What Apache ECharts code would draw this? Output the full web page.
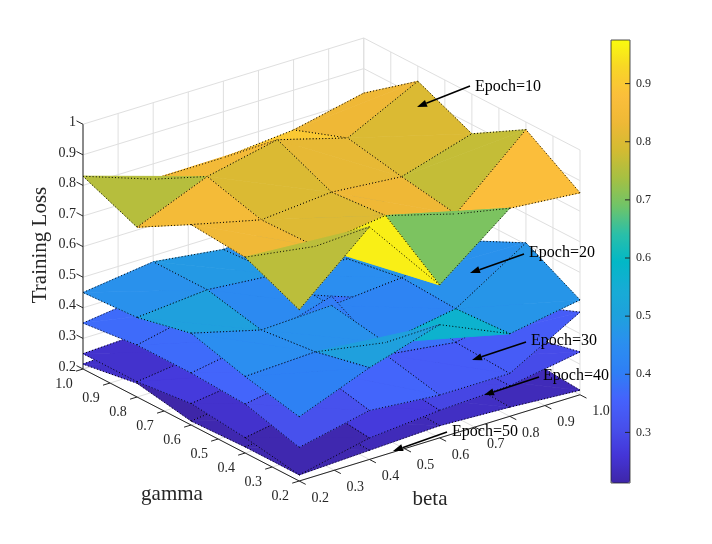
<!DOCTYPE html>
<html><head><meta charset="utf-8">
<script src="https://cdn.jsdelivr.net/npm/echarts@6/dist/echarts.min.js"></script>
<style>html,body{margin:0;padding:0;background:#fff}#c{width:712px;height:544px}</style>
</head><body><div id="c"></div>
<script>
// ---------------- data ----------------
const beta = [0.2, 0.4, 0.6, 0.8, 1.0];
const gamma = [0.2, 0.4, 0.6, 0.8, 1.0];
const epochNames = ['Epoch=10', 'Epoch=20', 'Epoch=30', 'Epoch=40', 'Epoch=50'];
// rows: gamma (0.2 -> 1.0), columns: beta (0.2 -> 1.0)
const loss10 = [
  [0.76, 0.96, 0.70, 0.88, 0.86],
  [0.84, 0.805, 0.835, 0.77, 0.975],
  [0.855, 0.80, 0.82, 0.80, 0.87],
  [0.755, 0.85, 0.90, 0.835, 0.95],
  [0.83, 0.75, 0.75, 0.77, 0.82]
];
const loss20 = [
  [0.41, 0.50, 0.57, 0.47, 0.51],
  [0.45, 0.46, 0.42, 0.46, 0.605],
  [0.50, 0.44, 0.45, 0.47, 0.52],
  [0.46, 0.48, 0.46, 0.44, 0.50],
  [0.45, 0.48, 0.45, 0.47, 0.50]
];
const loss30 = [
  [0.31, 0.36, 0.34, 0.34, 0.47],
  [0.36, 0.40, 0.38, 0.35, 0.40],
  [0.37, 0.41, 0.48, 0.40, 0.38],
  [0.37, 0.42, 0.40, 0.38, 0.39],
  [0.35, 0.38, 0.37, 0.37, 0.38]
];
const loss40 = [
  [0.22, 0.27, 0.29, 0.30, 0.34],
  [0.25, 0.29, 0.31, 0.30, 0.30],
  [0.27, 0.30, 0.31, 0.29, 0.28],
  [0.25, 0.28, 0.28, 0.27, 0.27],
  [0.25, 0.26, 0.26, 0.26, 0.26]
];
const loss50 = [
  [0.22, 0.23, 0.24, 0.23, 0.215],
  [0.22, 0.24, 0.25, 0.24, 0.23],
  [0.213, 0.24, 0.25, 0.24, 0.23],
  [0.245, 0.23, 0.24, 0.24, 0.23],
  [0.216, 0.23, 0.23, 0.23, 0.22]
];
const betaTicks = [0.2, 0.3, 0.4, 0.5, 0.6, 0.7, 0.8, 0.9, 1.0];
const gammaTicks = [0.2, 0.3, 0.4, 0.5, 0.6, 0.7, 0.8, 0.9, 1.0];
const lossTicks = [0.2, 0.3, 0.4, 0.5, 0.6, 0.7, 0.8, 0.9, 1];
const colorbarTicks = [0.3, 0.4, 0.5, 0.6, 0.7, 0.8, 0.9];

// ---------------- styles / view ----------------
const surfaces = [loss10, loss20, loss30, loss40, loss50];
const PARULA = ['#3e26a8','#4435d8','#4750ec','#4562fc','#2f7ff5','#2b8ef0','#1fa0dd','#17acd5',
  '#02b8c6','#2bbfa8','#70c468','#a5c043','#d2bb32','#eeb836','#fbbe3b','#f8d626','#f9fb0e'];
const FONT = '"Liberation Serif","DejaVu Serif",serif';
const VIEW = { az: 37.6 * Math.PI / 180, el: 23.5 * Math.PI / 180, zScale: 0.753 };
const LIM = { b: [0.2, 1.0], g: [0.2, 1.0], z: [0.2, 1.0] };
const ca = Math.cos(VIEW.az), sa = Math.sin(VIEW.az), ce = Math.cos(VIEW.el), se = Math.sin(VIEW.el);
function nrm(v, r) { return (v - r[0]) / (r[1] - r[0]); }
function project(b, g, z) {
  const bn = nrm(b, LIM.b), gn = nrm(g, LIM.g), zn = nrm(z, LIM.z);
  const h = bn * sa + gn * ca;
  return [bn * ca - gn * sa, h * se + VIEW.zScale * zn * ce, h * ce - VIEW.zScale * zn * se];
}
const uMin = -sa, uMax = ca, vMax = (sa + ca) * se + VIEW.zScale * ce;

let allVals = [];
surfaces.forEach(Z => Z.forEach(r => allVals = allVals.concat(r)));
const cMin = Math.min.apply(null, allVals), cMax = Math.max.apply(null, allVals);

// faces sorted back-to-front
const faces = [];
surfaces.forEach((Z, s) => {
  for (let j = 0; j < gamma.length - 1; j++) for (let i = 0; i < beta.length - 1; i++) {
    let d = 0;
    [[i, j], [i + 1, j], [i + 1, j + 1], [i, j + 1]].forEach(([a, b]) => { d += project(beta[a], gamma[b], Z[b][a])[2]; });
    faces.push({ value: [s, i, j, Z[j][i]], depth: d / 4 });
  }
});
faces.sort((a, b) => b.depth - a.depth);

function renderFace(params, api) {
  const s = api.value(0), i = api.value(1), j = api.value(2);
  const Z = surfaces[s];
  const P = (a, b) => { const p = project(beta[a], gamma[b], Z[b][a]); return api.coord([p[0], p[1]]); };
  const p00 = P(i, j), p10 = P(i + 1, j), p11 = P(i + 1, j + 1), p01 = P(i, j + 1);
  const color = api.visual('color');
  const fs = { fill: color, stroke: color, lineWidth: 0.7 };
  const edge = (a, b) => ({ type: 'line', shape: { x1: a[0], y1: a[1], x2: b[0], y2: b[1] },
    style: { stroke: '#000', lineWidth: 1, lineDash: [1, 2.2], fill: null } });
  return { type: 'group', children: [
    { type: 'polygon', shape: { points: [p00, p10, p01] }, style: fs },
    { type: 'polygon', shape: { points: [p10, p11, p01] }, style: fs },
    edge(p00, p10), edge(p01, p11), edge(p00, p01), edge(p10, p11)
  ] };
}

function renderBox(params, api) {
  const C = (b, g, z) => { const p = project(b, g, z); return api.coord([p[0], p[1]]); };
  const ch = [];
  const gridLine = (a, b) => ch.push({ type: 'line', shape: { x1: a[0], y1: a[1], x2: b[0], y2: b[1] },
    style: { stroke: '#dfdfdf', lineWidth: 1 } });
  const axLine = (a, b) => ch.push({ type: 'line', shape: { x1: a[0], y1: a[1], x2: b[0], y2: b[1] },
    style: { stroke: '#262626', lineWidth: 1 } });
  const lbl = (t, p, dx, dy, align) => ch.push({ type: 'text', x: p[0] + dx, y: p[1] + dy,
    style: { text: t, fontFamily: FONT, fontSize: 14, fill: '#262626', align: align || 'center', verticalAlign: 'middle' } });
  const [b0, b1] = LIM.b, [g0, g1] = LIM.g, [z0, z1] = LIM.z;
  betaTicks.forEach(b => gridLine(C(b, g1, z0), C(b, g1, z1)));
  lossTicks.forEach(z => gridLine(C(b0, g1, z), C(b1, g1, z)));
  gammaTicks.forEach(g => gridLine(C(b1, g, z0), C(b1, g, z1)));
  lossTicks.forEach(z => gridLine(C(b1, g0, z), C(b1, g1, z)));
  betaTicks.forEach(b => gridLine(C(b, g0, z0), C(b, g1, z0)));
  gammaTicks.forEach(g => gridLine(C(b0, g, z0), C(b1, g, z0)));
  axLine(C(b0, g1, z0), C(b0, g1, z1));
  axLine(C(b0, g0, z0), C(b0, g1, z0));
  axLine(C(b0, g0, z0), C(b1, g0, z0));
  const tz = 0.03 * (g1 - g0), tg = 0.025 * (b1 - b0), tb = 0.03 * (g1 - g0);
  lossTicks.forEach(z => { axLine(C(b0, g1, z), C(b0, g1 + tz, z)); lbl(String(z), C(b0, g1, z), -7, -2, 'right'); });
  gammaTicks.forEach(g => { axLine(C(b0, g, z0), C(b0 - tg, g, z0)); lbl(g.toFixed(1), C(b0, g, z0), -19, 15); });
  betaTicks.forEach(b => { axLine(C(b, g0, z0), C(b, g0 - tb, z0)); lbl(b.toFixed(1), C(b, g0, z0), 21, 17); });
  return { type: 'group', children: ch };
}

function renderColorbarTicks(params, api) {
  const ch = colorbarTicks.map(v => {
    const p = api.coord([1, v]);
    return { type: 'line', shape: { x1: p[0] - 5, y1: p[1], x2: p[0], y2: p[1] }, style: { stroke: '#262626', lineWidth: 1 } };
  });
  return { type: 'group', children: ch };
}

// annotations (figure pixel positions, like MATLAB annotation arrows)
const annotations = [
  { text: epochNames[0], at: [475, 87], from: [470, 86], to: [417, 107] },
  { text: epochNames[1], at: [529, 253], from: [524, 254], to: [470, 273] },
  { text: epochNames[2], at: [531, 341], from: [526, 342], to: [472, 360] },
  { text: epochNames[3], at: [543, 376], from: [539, 377], to: [484, 395] },
  { text: epochNames[4], at: [452, 432], from: [447, 432], to: [393, 451] }
];
const graphics = [];
annotations.forEach(a => {
  const dx = a.to[0] - a.from[0], dy = a.to[1] - a.from[1], L = Math.hypot(dx, dy);
  const ux = dx / L, uy = dy / L, hl = 10, hw = 3.6;
  const bx = a.to[0] - ux * hl, by = a.to[1] - uy * hl;
  graphics.push({ type: 'line', shape: { x1: a.from[0], y1: a.from[1], x2: bx, y2: by }, style: { stroke: '#000', lineWidth: 1.6 }, z: 100 });
  graphics.push({ type: 'polygon', shape: { points: [a.to, [bx - uy * hw, by + ux * hw], [bx + uy * hw, by - ux * hw]] }, style: { fill: '#000' }, z: 100 });
  graphics.push({ type: 'text', x: a.at[0], y: a.at[1], style: { text: a.text, fontFamily: FONT, fontSize: 16, fill: '#000', align: 'left', verticalAlign: 'middle' }, z: 100 });
});
graphics.push({ type: 'text', x: 40, y: 245, rotation: Math.PI / 2, style: { text: 'Training Loss', fontFamily: FONT, fontSize: 21, fill: '#262626', align: 'center', verticalAlign: 'middle' }, z: 100 });
graphics.push({ type: 'text', x: 172, y: 494, style: { text: 'gamma', fontFamily: FONT, fontSize: 21, fill: '#262626', align: 'center', verticalAlign: 'middle' }, z: 100 });
graphics.push({ type: 'text', x: 430, y: 499, style: { text: 'beta', fontFamily: FONT, fontSize: 21, fill: '#262626', align: 'center', verticalAlign: 'middle' }, z: 100 });

const chart = echarts.init(document.getElementById('c'));
chart.setOption({
  animation: false,
  backgroundColor: '#fff',
  grid: [
    { left: 83, top: 38, width: 497, height: 443, show: false },
    { left: 611, top: 40, width: 19, height: 443, show: true, borderColor: '#262626', borderWidth: 0.8, backgroundColor: 'transparent', z: 10 }
  ],
  xAxis: [
    { type: 'value', gridIndex: 0, min: uMin, max: uMax, show: false },
    { type: 'value', gridIndex: 1, min: 0, max: 1, show: false }
  ],
  yAxis: [
    { type: 'value', gridIndex: 0, min: 0, max: vMax, show: false },
    { type: 'value', gridIndex: 1, min: cMin, max: cMax, position: 'right', z: 10,
      axisLine: { show: false }, splitLine: { show: false }, axisTick: { show: false },
      axisLabel: { customValues: colorbarTicks, formatter: v => (+v).toFixed(1), fontFamily: FONT, fontSize: 12, color: '#262626', margin: 6 } }
  ],
  visualMap: {
    type: 'continuous', seriesIndex: 1, dimension: 3, min: cMin, max: cMax,
    inRange: { color: PARULA }, left: 611, top: 40, itemWidth: 19, itemHeight: 443,
    calculable: false, padding: 0, hoverLink: false, text: null, showLabel: false
  },
  graphic: graphics,
  series: [
    { type: 'custom', name: 'box', coordinateSystem: 'cartesian2d', xAxisIndex: 0, yAxisIndex: 0, z: 1, silent: true,
      data: [[0, 0, 0, cMin]], renderItem: renderBox },
    { type: 'custom', name: 'loss surfaces', coordinateSystem: 'cartesian2d', xAxisIndex: 0, yAxisIndex: 0, z: 2, silent: true,
      data: faces.map(f => f.value), renderItem: renderFace },
    { type: 'custom', name: 'colorbar ticks', coordinateSystem: 'cartesian2d', xAxisIndex: 1, yAxisIndex: 1, z: 20, silent: true,
      data: [[0, cMin]], renderItem: renderColorbarTicks }
  ]
});
</script></body></html>
